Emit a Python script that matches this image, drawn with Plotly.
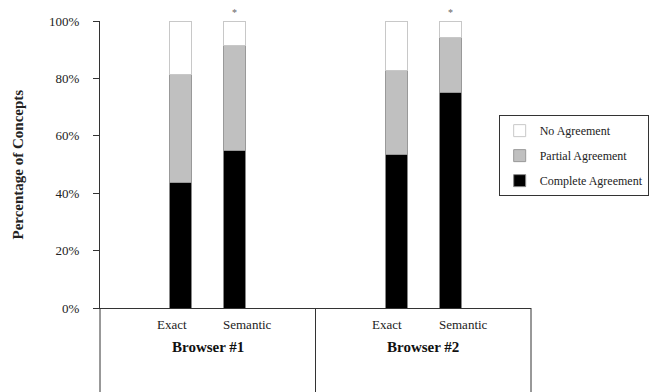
import plotly.graph_objects as go

groups = ["Browser #1", "Browser #2"]
conditions = ["Exact", "Semantic"]
complete = [43.6, 54.8, 53.4, 75.0]
partial = [37.8, 36.6, 29.3, 19.2]
no_agree = [18.6, 8.6, 17.3, 5.8]
significant = [False, True, False, True]
y_ticks = [0, 20, 40, 60, 80, 100]
y_tick_labels = ["0%", "20%", "40%", "60%", "80%", "100%"]

FONT = "Liberation Serif"
SLOTS = 4  # category slots per group (first and last are empty)
XMAX = SLOTS * len(groups)

# position of each bar on the category axis
pos = []
for g in range(len(groups)):
    for j in range(len(conditions)):
        pos.append(g * SLOTS + 1.5 + j)

fig = go.Figure()
series = [
    ("Complete Agreement", complete, "#000000", "#888888", 3),
    ("Partial Agreement", partial, "#c0c0c0", "#999999", 2),
    ("No Agreement", no_agree, "#ffffff", "#c8c8c8", 1),
]
for name, vals, fill, line, rank in series:
    fig.add_trace(go.Bar(
        x=pos, y=vals, name=name, width=0.41, legendgroup=name, legendrank=rank,
        marker=dict(color=fill, line=dict(color=line, width=1)),
    ))

annotations = []
# category labels
shifts = [-9, 13]
for i, p in enumerate(pos):
    annotations.append(dict(
        x=p, y=0, xref="x", yref="paper", yshift=-26, xshift=shifts[i % 2],
        text=conditions[i % 2], showarrow=False,
        font=dict(family=FONT, size=13, color="#222222"),
    ))
# group labels
for g, name in enumerate(groups):
    annotations.append(dict(
        x=g * SLOTS + SLOTS / 2, y=0, xref="x", yref="paper", yshift=-49,
        text="<b>" + name + "</b>", showarrow=False,
        font=dict(family=FONT, size=15, color="#111111"),
    ))
# significance markers
for i, p in enumerate(pos):
    if significant[i]:
        annotations.append(dict(
            x=p, y=complete[i] + partial[i] + no_agree[i], xref="x", yref="y",
            yshift=9, text="*", showarrow=False,
            font=dict(family=FONT, size=10, color="#666666"),
        ))
# y-axis title
annotations.append(dict(
    x=0, y=0.5, xref="paper", yref="paper", xshift=-83,
    xanchor="center", yanchor="middle",
    text="<b>Percentage of Concepts</b>", textangle=-90, showarrow=False,
    font=dict(family=FONT, size=15, color="#222222"),
))

# divider lines below the category axis
shapes = []
for g in range(len(groups) + 1):
    xp = g * SLOTS / XMAX
    shapes.append(dict(
        type="line", xref="paper", yref="paper", x0=xp, x1=xp, y0=0, y1=-0.3,
        line=dict(color="#333333", width=1),
    ))

fig.update_layout(
    width=652, height=392,
    margin=dict(l=100, r=120.6, t=21, b=84, autoexpand=False),
    paper_bgcolor="white", plot_bgcolor="white",
    barmode="stack",
    showlegend=True,
    legend=dict(
        x=0.925, y=0.672, xanchor="left", yanchor="top",
        traceorder="grouped",
        bordercolor="#333333", borderwidth=1,
        font=dict(family=FONT, size=12, color="#222222"),
        itemwidth=30, tracegroupgap=6,
        bgcolor="white",
    ),
    xaxis=dict(
        range=[0, XMAX], showgrid=False, zeroline=False,
        showline=True, linecolor="#333333", linewidth=1,
        showticklabels=False, ticks="", automargin=False,
    ),
    yaxis=dict(
        range=[0, 100], tickmode="array", tickvals=y_ticks, ticktext=y_tick_labels,
        showgrid=False, zeroline=False,
        showline=True, linecolor="#333333", linewidth=1,
        ticks="outside", ticklen=6, tickcolor="#333333",
        ticklabelstandoff=11, automargin=False,
        tickfont=dict(family=FONT, size=13, color="#222222"),
    ),
    annotations=annotations,
    shapes=shapes,
)

fig.write_html(
    "out.html",
    config={"displayModeBar": False},
    post_script="document.body.style.margin='0';document.body.style.overflow='hidden';",
)
